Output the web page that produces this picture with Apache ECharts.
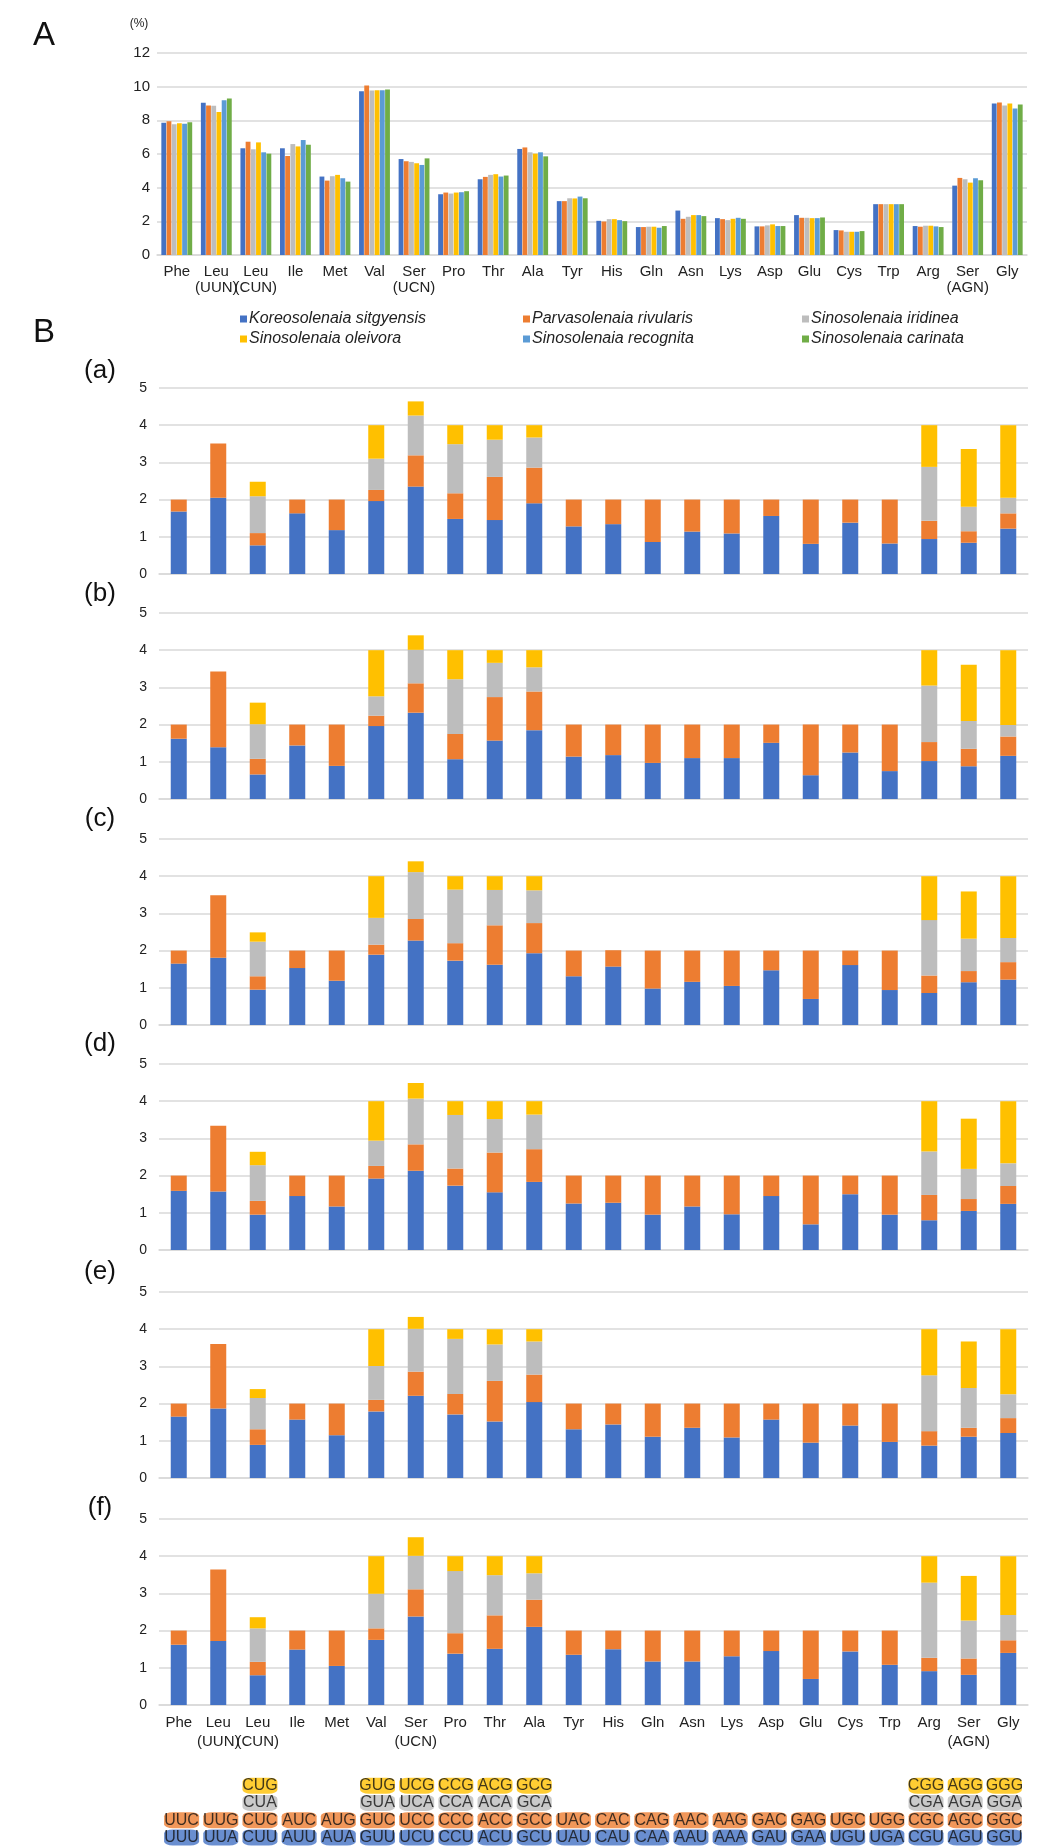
<!DOCTYPE html>
<html><head><meta charset="utf-8">
<script src="https://cdn.jsdelivr.net/npm/echarts@6/dist/echarts.min.js"></script>
<style>html,body{margin:0;padding:0;background:#fff}#c{width:1064px;height:1847px}</style>
</head><body><div id="c"></div>
<script>
const N = null;
const aminoAcids = ['Phe','Leu\n(UUN)','Leu\n(CUN)','Ile','Met','Val','Ser\n(UCN)','Pro','Thr','Ala','Tyr','His','Gln','Asn','Lys','Asp','Glu','Cys','Trp','Arg','Ser\n(AGN)','Gly'];
const speciesNames = ['Koreosolenaia sitgyensis','Parvasolenaia rivularis','Sinosolenaia iridinea','Sinosolenaia oleivora','Sinosolenaia recognita','Sinosolenaia carinata'];
const yTicksA = [0, 12, 2];
const yTicksB = [0, 5, 1];

// Panel A: amino acid usage (%)
const koreo     = [7.85,9.04,6.34,6.34,4.66,9.73,5.70,3.61,4.50,6.30,3.20,2.03,1.66,2.64,2.19,1.70,2.37,1.48,3.02,1.72,4.12,9.00];
const parva     = [7.95,8.88,6.73,5.88,4.42,10.07,5.57,3.71,4.64,6.39,3.20,1.99,1.66,2.15,2.13,1.70,2.21,1.46,3.02,1.68,4.58,9.06];
const iridinea  = [7.76,8.86,6.28,6.59,4.68,9.77,5.53,3.65,4.76,6.10,3.37,2.13,1.68,2.27,2.07,1.76,2.21,1.38,3.02,1.74,4.50,8.88];
const oleivora  = [7.83,8.49,6.69,6.45,4.76,9.79,5.45,3.71,4.80,6.02,3.36,2.13,1.68,2.37,2.15,1.82,2.19,1.38,3.02,1.74,4.30,9.00];
const recognita = [7.80,9.20,6.10,6.83,4.56,9.79,5.35,3.73,4.66,6.10,3.47,2.07,1.62,2.37,2.21,1.72,2.19,1.38,3.02,1.70,4.56,8.70];
const carinata  = [7.89,9.30,6.02,6.55,4.36,9.83,5.74,3.79,4.72,5.86,3.37,2.01,1.72,2.31,2.15,1.72,2.23,1.42,3.02,1.66,4.44,8.94];

// Panel B: RSCU per codon (1st..4th codon of each family)
const a1 = [1.68,2.05,0.77,1.63,1.18,1.96,2.35,1.48,1.45,1.90,1.28,1.34,0.86,1.14,1.09,1.56,0.81,1.38,0.82,0.94,0.84,1.22];
const a2 = [0.32,1.46,0.33,0.37,0.82,0.30,0.84,0.69,1.16,0.96,0.72,0.66,1.14,0.86,0.91,0.44,1.19,0.62,1.18,0.49,0.31,0.41];
const a3 = [N,N,0.99,N,N,0.84,1.07,1.32,1.00,0.81,N,N,N,N,N,N,N,N,N,1.45,0.66,0.42];
const a4 = [N,N,0.39,N,N,0.90,0.38,0.51,0.39,0.33,N,N,N,N,N,N,N,N,N,1.12,1.55,1.95];

const b1 = [1.62,1.39,0.66,1.44,0.89,1.96,2.32,1.07,1.57,1.85,1.14,1.18,0.97,1.10,1.10,1.51,0.64,1.25,0.75,1.02,0.88,1.16];
const b2 = [0.38,2.04,0.42,0.56,1.11,0.28,0.79,0.68,1.17,1.04,0.86,0.82,1.03,0.90,0.90,0.49,1.36,0.75,1.25,0.51,0.47,0.52];
const b3 = [N,N,0.93,N,N,0.52,0.90,1.47,0.92,0.65,N,N,N,N,N,N,N,N,N,1.52,0.75,0.31];
const b4 = [N,N,0.58,N,N,1.24,0.39,0.78,0.34,0.46,N,N,N,N,N,N,N,N,N,0.95,1.51,2.01];

const c1 = [1.65,1.81,0.95,1.53,1.19,1.89,2.27,1.73,1.62,1.93,1.31,1.57,0.98,1.16,1.05,1.47,0.70,1.61,0.94,0.86,1.15,1.22];
const c2 = [0.35,1.68,0.36,0.47,0.81,0.27,0.58,0.47,1.06,0.81,0.69,0.44,1.02,0.84,0.95,0.53,1.30,0.39,1.06,0.47,0.30,0.47];
const c3 = [N,N,0.93,N,N,0.72,1.26,1.44,0.95,0.88,N,N,N,N,N,N,N,N,N,1.49,0.87,0.65];
const c4 = [N,N,0.25,N,N,1.12,0.29,0.36,0.37,0.38,N,N,N,N,N,N,N,N,N,1.18,1.27,1.66];

const d1 = [1.59,1.57,0.95,1.45,1.17,1.92,2.13,1.73,1.55,1.83,1.25,1.27,0.95,1.17,0.96,1.45,0.69,1.50,0.95,0.80,1.05,1.24];
const d2 = [0.41,1.77,0.37,0.55,0.83,0.34,0.71,0.46,1.07,0.88,0.75,0.73,1.05,0.83,1.04,0.55,1.31,0.50,1.05,0.68,0.32,0.48];
const d3 = [N,N,0.96,N,N,0.68,1.23,1.44,0.90,0.93,N,N,N,N,N,N,N,N,N,1.17,0.81,0.61];
const d4 = [N,N,0.36,N,N,1.06,0.42,0.37,0.48,0.36,N,N,N,N,N,N,N,N,N,1.35,1.35,1.67];

const e1 = [1.65,1.87,0.89,1.57,1.15,1.79,2.21,1.71,1.52,2.04,1.31,1.44,1.11,1.35,1.09,1.57,0.95,1.41,0.97,0.87,1.11,1.21];
const e2 = [0.35,1.73,0.42,0.43,0.85,0.31,0.65,0.55,1.09,0.74,0.69,0.56,0.89,0.65,0.91,0.43,1.05,0.59,1.03,0.39,0.24,0.40];
const e3 = [N,N,0.84,N,N,0.91,1.15,1.48,0.98,0.89,N,N,N,N,N,N,N,N,N,1.50,1.07,0.64];
const e4 = [N,N,0.24,N,N,0.99,0.32,0.26,0.41,0.33,N,N,N,N,N,N,N,N,N,1.24,1.25,1.75];

const f1 = [1.62,1.72,0.80,1.49,1.05,1.75,2.38,1.38,1.51,2.10,1.35,1.50,1.17,1.17,1.31,1.45,0.70,1.44,1.08,0.91,0.81,1.40];
const f2 = [0.38,1.92,0.36,0.51,0.95,0.31,0.73,0.55,0.90,0.73,0.65,0.50,0.83,0.83,0.69,0.55,1.30,0.56,0.92,0.36,0.44,0.34];
const f3 = [N,N,0.90,N,N,0.93,0.90,1.67,1.08,0.71,N,N,N,N,N,N,N,N,N,2.02,1.02,0.68];
const f4 = [N,N,0.30,N,N,1.01,0.50,0.40,0.51,0.46,N,N,N,N,N,N,N,N,N,0.71,1.20,1.58];

// Codon table
const codon1st = ['UUU','UUA','CUU','AUU','AUA','GUU','UCU','CCU','ACU','GCU','UAU','CAU','CAA','AAU','AAA','GAU','GAA','UGU','UGA','CGU','AGU','GGU'];
const codon2nd = ['UUC','UUG','CUC','AUC','AUG','GUC','UCC','CCC','ACC','GCC','UAC','CAC','CAG','AAC','AAG','GAC','GAG','UGC','UGG','CGC','AGC','GGC'];
const codon3rd = [N,N,'CUA',N,N,'GUA','UCA','CCA','ACA','GCA',N,N,N,N,N,N,N,N,N,'CGA','AGA','GGA'];
const codon4th = [N,N,'CUG',N,N,'GUG','UCG','CCG','ACG','GCG',N,N,N,N,N,N,N,N,N,'CGG','AGG','GGG'];

const panelLabels = ['(a)','(b)','(c)','(d)','(e)','(f)'];

const FONT = 'Liberation Sans, Arial, Helvetica, sans-serif';
const colorsA = ['#4472C4','#ED7D31','#BDBDBD','#FFC000','#5B9BD5','#70AD47'];
const colorsB = ['#4472C4','#ED7D31','#BDBDBD','#FFC000'];
const gridLine = '#D9D9D9';

const speciesData = [koreo, parva, iridinea, oleivora, recognita, carinata];
const panelData = [[a1,a2,a3,a4],[b1,b2,b3,b4],[c1,c2,c3,c4],[d1,d2,d3,d4],[e1,e2,e3,e4],[f1,f2,f3,f4]];
const codonRows = [codon1st, codon2nd, codon3rd, codon4th];

const bTops = [388, 613, 839, 1064, 1292, 1519];
const bLabelY = [371, 594, 819, 1044, 1272, 1508];

const grids = [{left:157, width:870, top:53, height:202}];
bTops.forEach(t => grids.push({left:159, width:869, top:t, height:186}));
grids.push({left:162, width:862, top:1777, height:69});

const xAxes = [], yAxes = [], series = [];
xAxes.push({type:'category', gridIndex:0, data:aminoAcids, axisTick:{show:false},
  axisLine:{lineStyle:{color:gridLine, width:1.5}},
  axisLabel:{interval:0, fontSize:15, lineHeight:16, margin:9, color:'#222', fontFamily:FONT}});
yAxes.push({type:'value', gridIndex:0, min:yTicksA[0], max:yTicksA[1], interval:yTicksA[2],
  axisLine:{show:false}, axisTick:{show:false},
  splitLine:{lineStyle:{color:gridLine, width:1.5}},
  axisLabel:{fontSize:15, margin:7, color:'#222', fontFamily:FONT}});
speciesData.forEach((d, i) => series.push({
  type:'bar', name:speciesNames[i], xAxisIndex:0, yAxisIndex:0, data:d,
  barCategoryGap:'22%', barGap:'8%', itemStyle:{color:colorsA[i]}, animation:false
}));

panelData.forEach((pd, p) => {
  const gi = p + 1;
  const last = p === panelData.length - 1;
  xAxes.push({type:'category', gridIndex:gi, data:aminoAcids, axisTick:{show:false},
    axisLine:{lineStyle:{color:gridLine, width:1.5}},
    axisLabel:{show:last, interval:0, fontSize:15, lineHeight:19, margin:8, color:'#222', fontFamily:FONT}});
  yAxes.push({type:'value', gridIndex:gi, min:yTicksB[0], max:yTicksB[1], interval:yTicksB[2],
    axisLine:{show:false}, axisTick:{show:false},
    splitLine:{lineStyle:{color:gridLine, width:1.5}},
    axisLabel:{fontSize:14, margin:12, color:'#222', fontFamily:FONT}});
  pd.forEach((arr, k) => series.push({
    type:'bar', name:'codon' + (k+1), xAxisIndex:gi, yAxisIndex:gi, stack:'panel' + p,
    data:arr, barWidth:16, itemStyle:{color:colorsB[k]}, animation:false
  }));
});

const ti = panelData.length + 1;
xAxes.push({type:'category', gridIndex:ti, data:aminoAcids, show:false});
yAxes.push({type:'category', gridIndex:ti, data:['1st','2nd','3rd','4th'], show:false});
codonRows.forEach((row, r) => {
  const pts = [];
  row.forEach((c, i) => { if (c) pts.push([i, r, c]); });
  series.push({
    type:'scatter', name:'codonRow' + (r+1), xAxisIndex:ti, yAxisIndex:ti, data:pts,
    symbol:'roundRect', symbolSize:[35, 16], itemStyle:{color:colorsB[r]}, animation:false,
    label:{show:true, position:'inside', formatter:p => p.value[2], fontSize:16, color:'#111', fontFamily:FONT}
  });
});

const legendPos = [[240,311],[523,311],[802,311],[240,331],[523,331],[802,331]];
const legends = speciesNames.map((n, i) => ({
  data:[n], left:legendPos[i][0], top:legendPos[i][1], padding:0, itemGap:0,
  itemWidth:7, itemHeight:7, icon:'rect', selectedMode:false,
  textStyle:{fontSize:16, fontStyle:'italic', color:'#222', fontFamily:FONT, padding:[0,0,0,-3]}
}));

const graphics = [
  {type:'text', x:44, y:36, style:{text:'A', font:'33px ' + FONT, fill:'#111', textAlign:'center', textVerticalAlign:'middle'}},
  {type:'text', x:139, y:24, style:{text:'(%)', font:'12px ' + FONT, fill:'#222', textAlign:'center', textVerticalAlign:'middle'}},
  {type:'text', x:44, y:333, style:{text:'B', font:'33px ' + FONT, fill:'#111', textAlign:'center', textVerticalAlign:'middle'}}
];
panelLabels.forEach((t, i) => graphics.push({type:'text', x:100, y:bLabelY[i],
  style:{text:t, font:'26px ' + FONT, fill:'#111', textAlign:'center', textVerticalAlign:'middle'}}));

const chart = echarts.init(document.getElementById('c'), null, {renderer:'canvas'});
chart.setOption({
  backgroundColor:'#fff', animation:false,
  grid:grids, xAxis:xAxes, yAxis:yAxes, series:series, legend:legends, graphic:graphics
});
</script></body></html>
